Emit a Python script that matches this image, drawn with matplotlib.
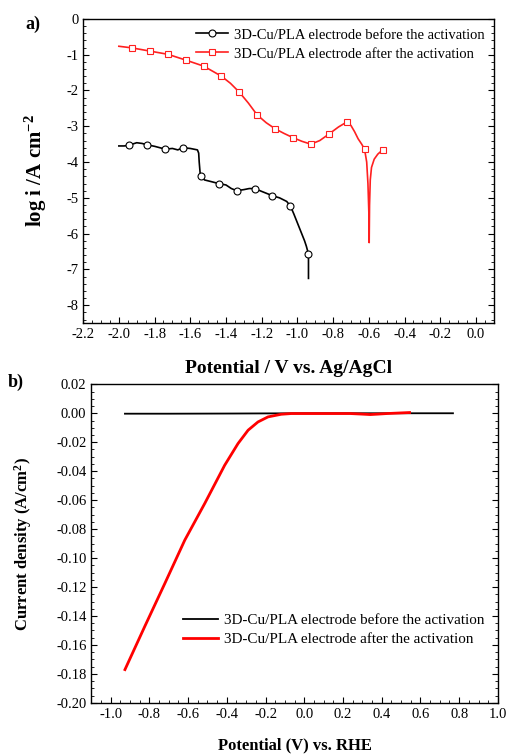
import matplotlib.pyplot as plt
from matplotlib.ticker import MultipleLocator, AutoMinorLocator

plt.rcParams['font.family'] = ['Liberation Serif', 'DejaVu Serif']
plt.rcParams['mathtext.fontset'] = 'custom'
plt.rcParams['mathtext.rm'] = 'Liberation Serif'
plt.rcParams['mathtext.bf'] = 'Liberation Serif:bold'
plt.rcParams['mathtext.default'] = 'bf'

# ---- panel a: Tafel plot ----
# before activation (line path and marker points)
before_x = [-2.0, -1.97, -1.944, -1.90, -1.87, -1.841, -1.80, -1.77, -1.74, -1.70, -1.67,
            -1.641, -1.60, -1.56, -1.553, -1.55, -1.545, -1.54, -1.52, -1.48, -1.441,
            -1.40, -1.37, -1.34, -1.30, -1.27, -1.239, -1.20, -1.17, -1.14, -1.10,
            -1.08, -1.06, -1.039, -1.02, -1.00, -0.98, -0.96, -0.95, -0.938, -0.938]
before_y = [-3.55, -3.55, -3.53, -3.46, -3.48, -3.52, -3.56, -3.60, -3.64, -3.62, -3.66,
            -3.60, -3.62, -3.66, -3.75, -4.0, -4.30, -4.40, -4.50, -4.55, -4.60,
            -4.64, -4.74, -4.80, -4.77, -4.74, -4.74, -4.82, -4.88, -4.94, -5.0,
            -5.05, -5.10, -5.23, -5.45, -5.70, -5.95, -6.20, -6.35, -6.57, -7.25]
before_mx = [-1.944, -1.841, -1.740, -1.641, -1.540, -1.441, -1.340, -1.239, -1.140, -1.039, -0.938]
before_my = [-3.53, -3.52, -3.64, -3.60, -4.40, -4.60, -4.80, -4.74, -4.94, -5.23, -6.57]

# after activation
after_x = [-2.0, -1.927, -1.826, -1.725, -1.626, -1.525, -1.426, -1.375, -1.325, -1.275,
           -1.226, -1.175, -1.125, -1.075, -1.024, -0.975, -0.925, -0.875, -0.824, -0.77,
           -0.723, -0.70, -0.68, -0.66, -0.64, -0.624, -0.612, -0.605, -0.600, -0.598,
           -0.596, -0.592, -0.585, -0.57, -0.55, -0.523]
after_y = [-0.765, -0.81, -0.90, -0.99, -1.15, -1.32, -1.60, -1.80, -2.05, -2.35,
           -2.68, -2.90, -3.07, -3.20, -3.32, -3.42, -3.50, -3.40, -3.22, -3.02,
           -2.88, -2.98, -3.15, -3.35, -3.50, -3.64, -4.0, -4.6, -5.4, -6.25,
           -5.2, -4.5, -4.15, -3.92, -3.78, -3.66]
after_mx = [-1.927, -1.826, -1.725, -1.626, -1.525, -1.426, -1.325, -1.226, -1.125,
            -1.024, -0.925, -0.824, -0.723, -0.624, -0.523]
after_my = [-0.81, -0.90, -0.99, -1.15, -1.32, -1.60, -2.05, -2.68, -3.07,
            -3.32, -3.50, -3.22, -2.88, -3.64, -3.66]

# ---- panel b: LSV ----
lsv_before_x = [-0.926, -0.7, -0.4, 0.0, 0.4, 0.768]
lsv_before_y = [-0.0003, -0.0003, -0.0002, 0.0, 0.0, 0.0]
lsv_after_x = [-0.926, -0.823, -0.720, -0.617, -0.514, -0.411, -0.342, -0.290, -0.239,
               -0.187, -0.119, -0.067, 0.066, 0.238, 0.30, 0.341, 0.38, 0.427, 0.544]
lsv_after_y = [-0.177, -0.147, -0.1175, -0.0876, -0.0623, -0.0359, -0.0209, -0.0117, -0.0060,
               -0.0025, -0.0007, -0.0002, -0.0002, -0.0002, -0.0006, -0.0009,
               -0.0006, -0.0002, 0.0005]

label_before = '3D-Cu/PLA electrode before the activation'
label_after = '3D-Cu/PLA electrode after the activation'

fig = plt.figure(figsize=(5.07, 7.55), dpi=100)
ax1 = fig.add_axes([0.164, 0.572, 0.810, 0.403])
ax2 = fig.add_axes([0.180, 0.069, 0.802, 0.422])

for ax in (ax1, ax2):
    ax.tick_params(which='both', direction='in', right=True, top=False, labelsize=10.5)
    ax.tick_params(which='major', length=4)
    ax.tick_params(which='minor', length=2)
    ax.xaxis.set_minor_locator(AutoMinorLocator(4))
    for s in ax.spines.values():
        s.set_linewidth(1.0)

# panel a
ax1.plot(before_x, before_y, '-', color='black', lw=1.2)
ax1.plot(before_mx, before_my, 'o', color='black', mfc='white', ms=5, mew=0.8)
ax1.plot(after_x, after_y, '-', color='#ff2020', lw=1.2)
ax1.plot(after_mx, after_my, 's', color='#ff2020', mfc='white', ms=5, mew=0.8)
h1, = ax1.plot([], [], '-o', color='black', mfc='white', ms=5, mew=0.8, lw=1.2)
h2, = ax1.plot([], [], '-s', color='#ff2020', mfc='white', ms=5, mew=0.8, lw=1.2)
ax1.legend([h1, h2], [label_before, label_after], loc='upper right', frameon=False,
           fontsize=10.5, handlelength=2.2, handletextpad=0.4, borderaxespad=0.25,
           labelspacing=0.4)
ax1.set_xlim(-2.2, 0.1)
ax1.set_ylim(-8.5, 0)
ax1.xaxis.set_major_locator(MultipleLocator(0.2))
ax1.yaxis.set_major_locator(MultipleLocator(1))
ax1.yaxis.set_minor_locator(AutoMinorLocator(5))
ax1.xaxis.set_major_formatter(plt.FuncFormatter(lambda v, p: '%.1f' % v))
ax1.yaxis.set_major_formatter(plt.FuncFormatter(lambda v, p: '%d' % round(v)))
ax1.set_xlabel('Potential / V vs. Ag/AgCl', fontsize=14, fontweight='bold', labelpad=14)
ax1.set_ylabel('log i /A cm$^{-2}$', fontsize=15, fontweight='bold', labelpad=12)
fig.text(0.05, 0.962, 'a)', fontsize=13, fontweight='bold')

# panel b
ax2.plot(lsv_before_x, lsv_before_y, '-', color='black', lw=1.3, label=label_before)
ax2.plot(lsv_after_x, lsv_after_y, '-', color='#ff0000', lw=2.0, label=label_after)
ax2.legend(loc='lower right', bbox_to_anchor=(1.0, 0.135), frameon=False, fontsize=10.9,
           handlelength=2.3, handletextpad=0.4, labelspacing=0.35)
ax2.set_xlim(-1.1, 1.0)
ax2.set_ylim(-0.20, 0.02)
ax2.xaxis.set_major_locator(MultipleLocator(0.2))
ax2.yaxis.set_major_locator(MultipleLocator(0.02))
ax2.yaxis.set_minor_locator(AutoMinorLocator(4))
ax2.xaxis.set_major_formatter(plt.FuncFormatter(lambda v, p: '%.1f' % v))
ax2.yaxis.set_major_formatter(plt.FuncFormatter(lambda v, p: '%.2f' % v))
ax2.set_xlabel('Potential (V) vs. RHE', fontsize=12, fontweight='bold', labelpad=12)
ax2.set_ylabel('Current density (A/cm$^{2}$)', fontsize=12, fontweight='bold', labelpad=16)
fig.text(0.015, 0.488, 'b)', fontsize=13, fontweight='bold')

plt.savefig('out.png', dpi=100)
